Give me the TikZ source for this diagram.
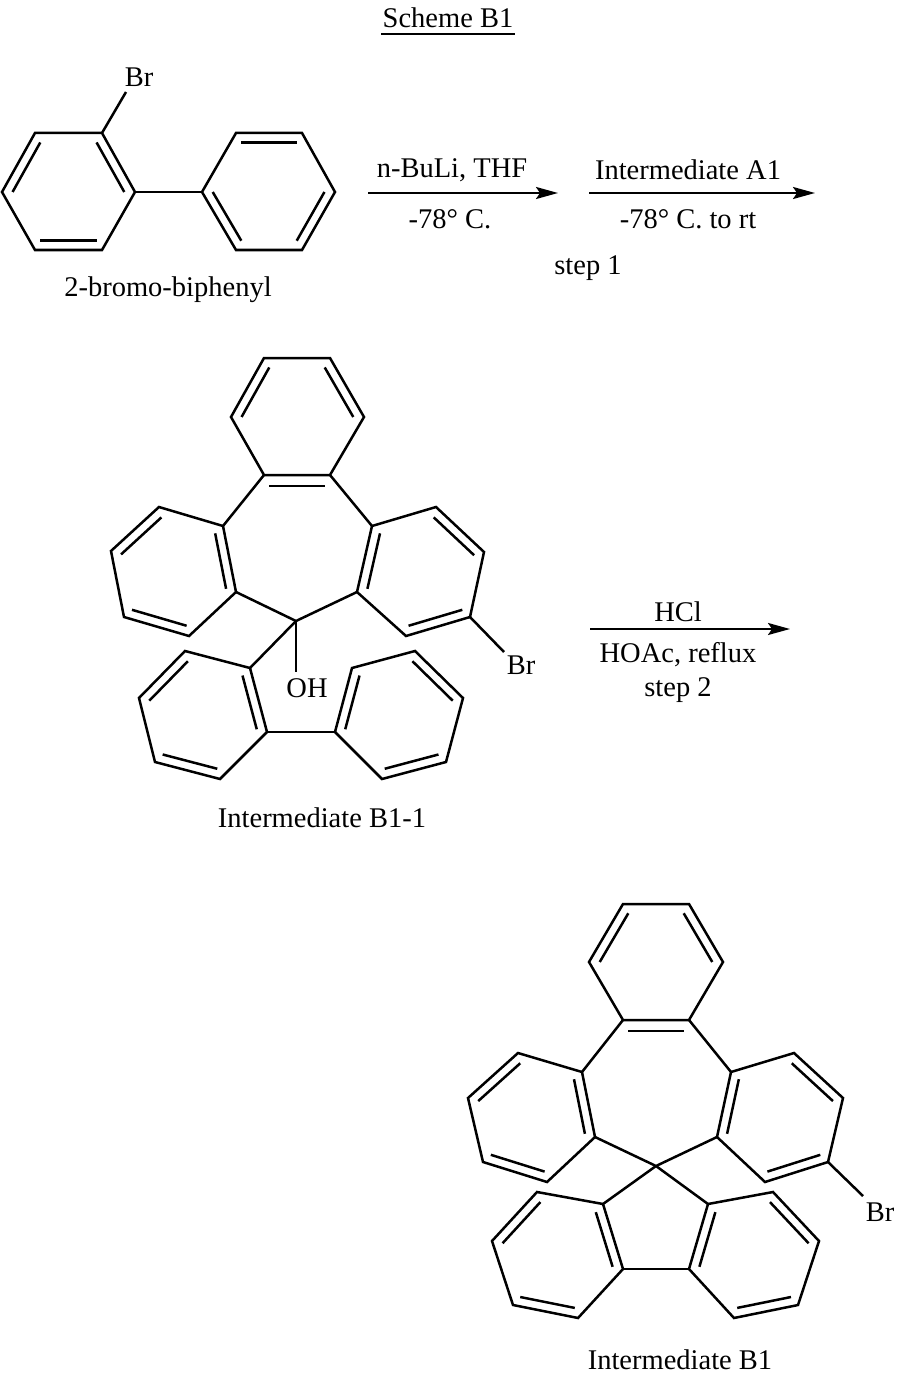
\documentclass[tikz,border=0pt]{standalone}
\usepackage{fontspec}
\setmainfont{Liberation Serif}
\usetikzlibrary{calc,arrows.meta}
\newcommand\dbl[3]{\draw ($(#3)!0.84!(#1)$) -- ($(#3)!0.84!(#2)$);}
\newcommand\cyc[6]{\draw (#1)--(#2)--(#3)--(#4)--(#5)--(#6)--cycle;}
\begin{document}
\begin{tikzpicture}[x=1pt,y=-1pt,line width=2.5pt,line join=miter,
  lab/.style={font=\fontsize{28.5}{32}\selectfont,inner sep=0pt},
  rxn/.style={-{Stealth[length=22pt,width=12pt,inset=4pt]},line width=2.2pt}]
\useasboundingbox (0,0) rectangle (896,1380);
% title
\node[lab] (title) at (448,18) {Scheme B1};
\draw[line width=1.5pt] (381,34) -- (515,34);
% molecule 1
\foreach \n/\x/\y in {a1/35/133,a2/102/133,a3/135/192,a4/102/250,a5/35/250,a6/2/192,
  b1/202/192,b2/236/133,b3/302/133,b4/335/192,b5/302/250,b6/236/250,
  ca/68/192,cb/269/192,br1e/126/92}
  \coordinate (\n) at (\x,\y);
\cyc{a1}{a2}{a3}{a4}{a5}{a6}
\cyc{b1}{b2}{b3}{b4}{b5}{b6}
\draw (a3)--(b1); \draw (a2)--(br1e);
\dbl{a6}{a1}{ca}\dbl{a4}{a5}{ca}\dbl{a2}{a3}{ca}
\dbl{b2}{b3}{cb}\dbl{b4}{b5}{cb}\dbl{b1}{b6}{cb}
\node[lab] (br1) at (139,77) {Br};
\node[lab] (n1) at (168,290) {2-bromo-biphenyl};
% arrows step 1
\coordinate (r1s) at (368,193); \coordinate (r1e) at (558,193);
\coordinate (r2s) at (589,193); \coordinate (r2e) at (815,193);
\draw[rxn] (r1s)--(r1e); \draw[rxn] (r2s)--(r2e);
\node[lab] (t1) at (452,170) {n-BuLi, THF};
\node[lab] (t2) at (450,219) {-78° C.};
\node[lab] (t3) at (688,170) {Intermediate A1};
\node[lab] (t4) at (688,219) {-78° C. to rt};
\node[lab] (t5) at (588,268) {step 1};
% molecule 2
\foreach \n/\x/\y in {p1/264/358,p2/330/358,p3/364/417,p4/330/475,p5/264/475,p6/231/417,
  q1/223/526,q2/159/507,q3/111/551,q4/124/617,q5/189/636,q6/236/592,
  s1/372/526,s2/436/507,s3/484/552,s4/470/617,s5/406/636,s6/357/592,
  cc/296/621,oh/296/672,br2e/504/652,
  u1/250/668,u2/185/651,u3/139/698,u4/155/762,u5/220/779,u6/267/732,
  v1/335/732,v2/352/668,v3/415/651,v4/463/698,v5/446/762,v6/382/779,
  cp/297/417,cq/174/572,cs/422/572,c7/296/545,cu/203/715,cv/399/715}
  \coordinate (\n) at (\x,\y);
\cyc{p1}{p2}{p3}{p4}{p5}{p6}
\cyc{q1}{q2}{q3}{q4}{q5}{q6}
\cyc{s1}{s2}{s3}{s4}{s5}{s6}
\cyc{u1}{u2}{u3}{u4}{u5}{u6}
\cyc{v1}{v2}{v3}{v4}{v5}{v6}
\draw (p5)--(q1); \draw (p4)--(s1); \draw (q6)--(cc)--(s6);
\draw (cc)--(u1); \draw (cc)--(oh); \draw (u6)--(v1); \draw (s4)--(br2e);
\dbl{p6}{p1}{cp}\dbl{p2}{p3}{cp}\dbl{p5}{p4}{c7}
\dbl{q2}{q3}{cq}\dbl{q4}{q5}{cq}\dbl{q1}{q6}{cq}
\dbl{s2}{s3}{cs}\dbl{s4}{s5}{cs}\dbl{s1}{s6}{cs}
\dbl{u2}{u3}{cu}\dbl{u4}{u5}{cu}\dbl{u1}{u6}{cu}
\dbl{v2}{v1}{cv}\dbl{v3}{v4}{cv}\dbl{v5}{v6}{cv}
\node[lab] (ohl) at (307,688) {OH};
\node[lab] (br2) at (521,665) {Br};
\node[lab] (n2) at (322,818) {Intermediate B1-1};
% arrow step 2
\coordinate (r3s) at (590,629); \coordinate (r3e) at (790,629);
\draw[rxn] (r3s)--(r3e);
\node[lab] (t6) at (678,612) {HCl};
\node[lab] (t7) at (678,655) {HOAc, reflux};
\node[lab] (t8) at (678,690) {step 2};
% molecule 3
\foreach \n/\x/\y in {P1/623/904,P2/689/904,P3/723/962,P4/689/1020,P5/623/1020,P6/589/962,
  Q1/582/1072,Q2/518/1053,Q3/468/1098,Q4/483/1162,Q5/547/1182,Q6/595/1137,
  S1/731/1072,S2/794/1053,S3/843/1098,S4/828/1162,S5/765/1182,S6/717/1137,
  C/656/1166,br3e/863/1196,
  U1/603/1204,U2/537/1192,U3/492/1241,U4/513/1305,U5/578/1318,U6/623/1269,
  V1/708/1204,V2/773/1192,V3/819/1241,V4/798/1305,V5/734/1318,V6/689/1269,
  CP/656/962,CQ/532/1117,CS/780/1117,C7/656/1090,CU/558/1255,CV/754/1255}
  \coordinate (\n) at (\x,\y);
\cyc{P1}{P2}{P3}{P4}{P5}{P6}
\cyc{Q1}{Q2}{Q3}{Q4}{Q5}{Q6}
\cyc{S1}{S2}{S3}{S4}{S5}{S6}
\cyc{U1}{U2}{U3}{U4}{U5}{U6}
\cyc{V1}{V2}{V3}{V4}{V5}{V6}
\draw (P5)--(Q1); \draw (P4)--(S1); \draw (Q6)--(C)--(S6);
\draw (C)--(U1); \draw (C)--(V1); \draw (U6)--(V6); \draw (S4)--(br3e);
\dbl{P6}{P1}{CP}\dbl{P2}{P3}{CP}\dbl{P5}{P4}{C7}
\dbl{Q2}{Q3}{CQ}\dbl{Q4}{Q5}{CQ}\dbl{Q1}{Q6}{CQ}
\dbl{S2}{S3}{CS}\dbl{S4}{S5}{CS}\dbl{S1}{S6}{CS}
\dbl{U2}{U3}{CU}\dbl{U4}{U5}{CU}\dbl{U1}{U6}{CU}
\dbl{V2}{V3}{CV}\dbl{V4}{V5}{CV}\dbl{V1}{V6}{CV}
\node[lab] (br3) at (880,1212) {Br};
\node[lab] (n3) at (680,1360) {Intermediate B1};
\end{tikzpicture}
\end{document}
